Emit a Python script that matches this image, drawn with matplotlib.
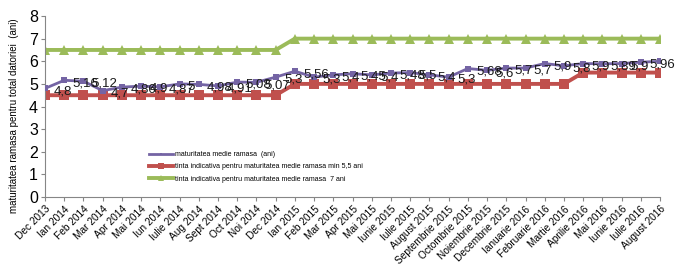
import matplotlib
matplotlib.use("Agg")
import matplotlib.pyplot as plt
import numpy as np

plt.rcParams['font.family'] = ['Liberation Sans', 'DejaVu Sans']

# ---------------------------
# DATA
# ---------------------------
luni = [
    "Dec 2013", "Ian 2014", "Feb 2014", "Mar 2014", "Apr 2014", "Mai 2014",
    "Iun 2014", "Iulie 2014", "Aug 2014", "Sept 2014", "Oct 2014", "Noi 2014",
    "Dec 2014", "Ian 2015", "Feb 2015", "Mar 2015", "Apr 2015", "Mai 2015",
    "Iunie 2015", "Iulie 2015", "August 2015", "Septembrie 2015",
    "Octombrie 2015", "Noiembrie 2015", "Decembrie 2015", "Ianuarie 2016",
    "Februarie 2016", "Martie 2016", "Aprilie 2016", "Mai 2016", "Iunie 2016",
    "Iulie 2016", "August 2016",
]

maturitate = [
    4.8, 5.16, 5.12, 4.7, 4.86, 4.9, 4.87, 5, 4.98, 4.91, 5.08, 5.07,
    5.3, 5.56, 5.3, 5.4, 5.45, 5.4, 5.48, 5.5, 5.4, 5.3, 5.68, 5.6,
    5.7, 5.7, 5.9, 5.8, 5.9, 5.89, 5.9, 5.96, 6.0,
]

tinta_min = [4.5] * 13 + [5] * 15 + [5.5] * 5
tinta_7 = [6.5] * 13 + [7] * 20

labels = [
    "maturitatea medie ramasa  (ani)",
    "tinta indicativa pentru maturitatea medie ramasa min 5,5 ani",
    "tinta indicativa pentru maturitatea medie ramasa  7 ani",
]

# ---------------------------
# PLOT
# ---------------------------
fig = plt.figure(figsize=(6.77, 2.76), dpi=100)
ax = fig.add_axes([0.0665, 0.286, 0.9085, 0.656])

x = np.arange(len(luni))

ax.plot(x, maturitate, color="#7464A4", lw=2.0, marker="s", markersize=3.8,
        markeredgewidth=0, label=labels[0], zorder=3)
ax.plot(x, tinta_min, color="#C0504D", lw=2.8, marker="s", markersize=7.5,
        markeredgewidth=0, label=labels[1], zorder=2)
ax.plot(x, tinta_7, color="#9BBB59", lw=2.8, marker="^", markersize=7.5,
        markeredgewidth=0, label=labels[2], zorder=2)

# data labels for the purple series (the last one falls off the picture)
for xi, v in zip(x[:-1], maturitate[:-1]):
    ax.annotate(f"{v:g}".replace(".", ","), (xi, v), xytext=(6, -2),
                textcoords="offset points", ha="left", va="center",
                fontsize=9.5, color="#1a1a1a", zorder=4, annotation_clip=False)

ax.set_xlim(0, len(luni) - 1)
ax.set_ylim(0, 8)
ax.set_yticks(range(0, 9))
ax.set_xticks(x)
ax.set_xticklabels(luni, rotation=45, ha="right", va="top",
                   rotation_mode="anchor", fontsize=7.3)
ax.tick_params(axis="y", labelsize=11.5, length=3, color="#868686", pad=2)
ax.tick_params(axis="x", length=3, color="#868686", pad=2)

for side in ["top", "right"]:
    ax.spines[side].set_visible(False)
for side in ["left", "bottom"]:
    ax.spines[side].set_color("#868686")

ax.set_ylabel("maturitatea ramasa pentru total datoriei  (ani)", fontsize=7)
ax.yaxis.set_label_coords(-0.042, 0.45)

ax.legend(loc="upper left", bbox_to_anchor=(0.215, 0.465),
          bbox_transform=fig.transFigure, frameon=False, fontsize=5,
          handlelength=3.4, handletextpad=0.3, labelspacing=0.75,
          borderpad=0, markerscale=0.5)

fig.savefig("out.png", dpi=100)
plt.close(fig)
